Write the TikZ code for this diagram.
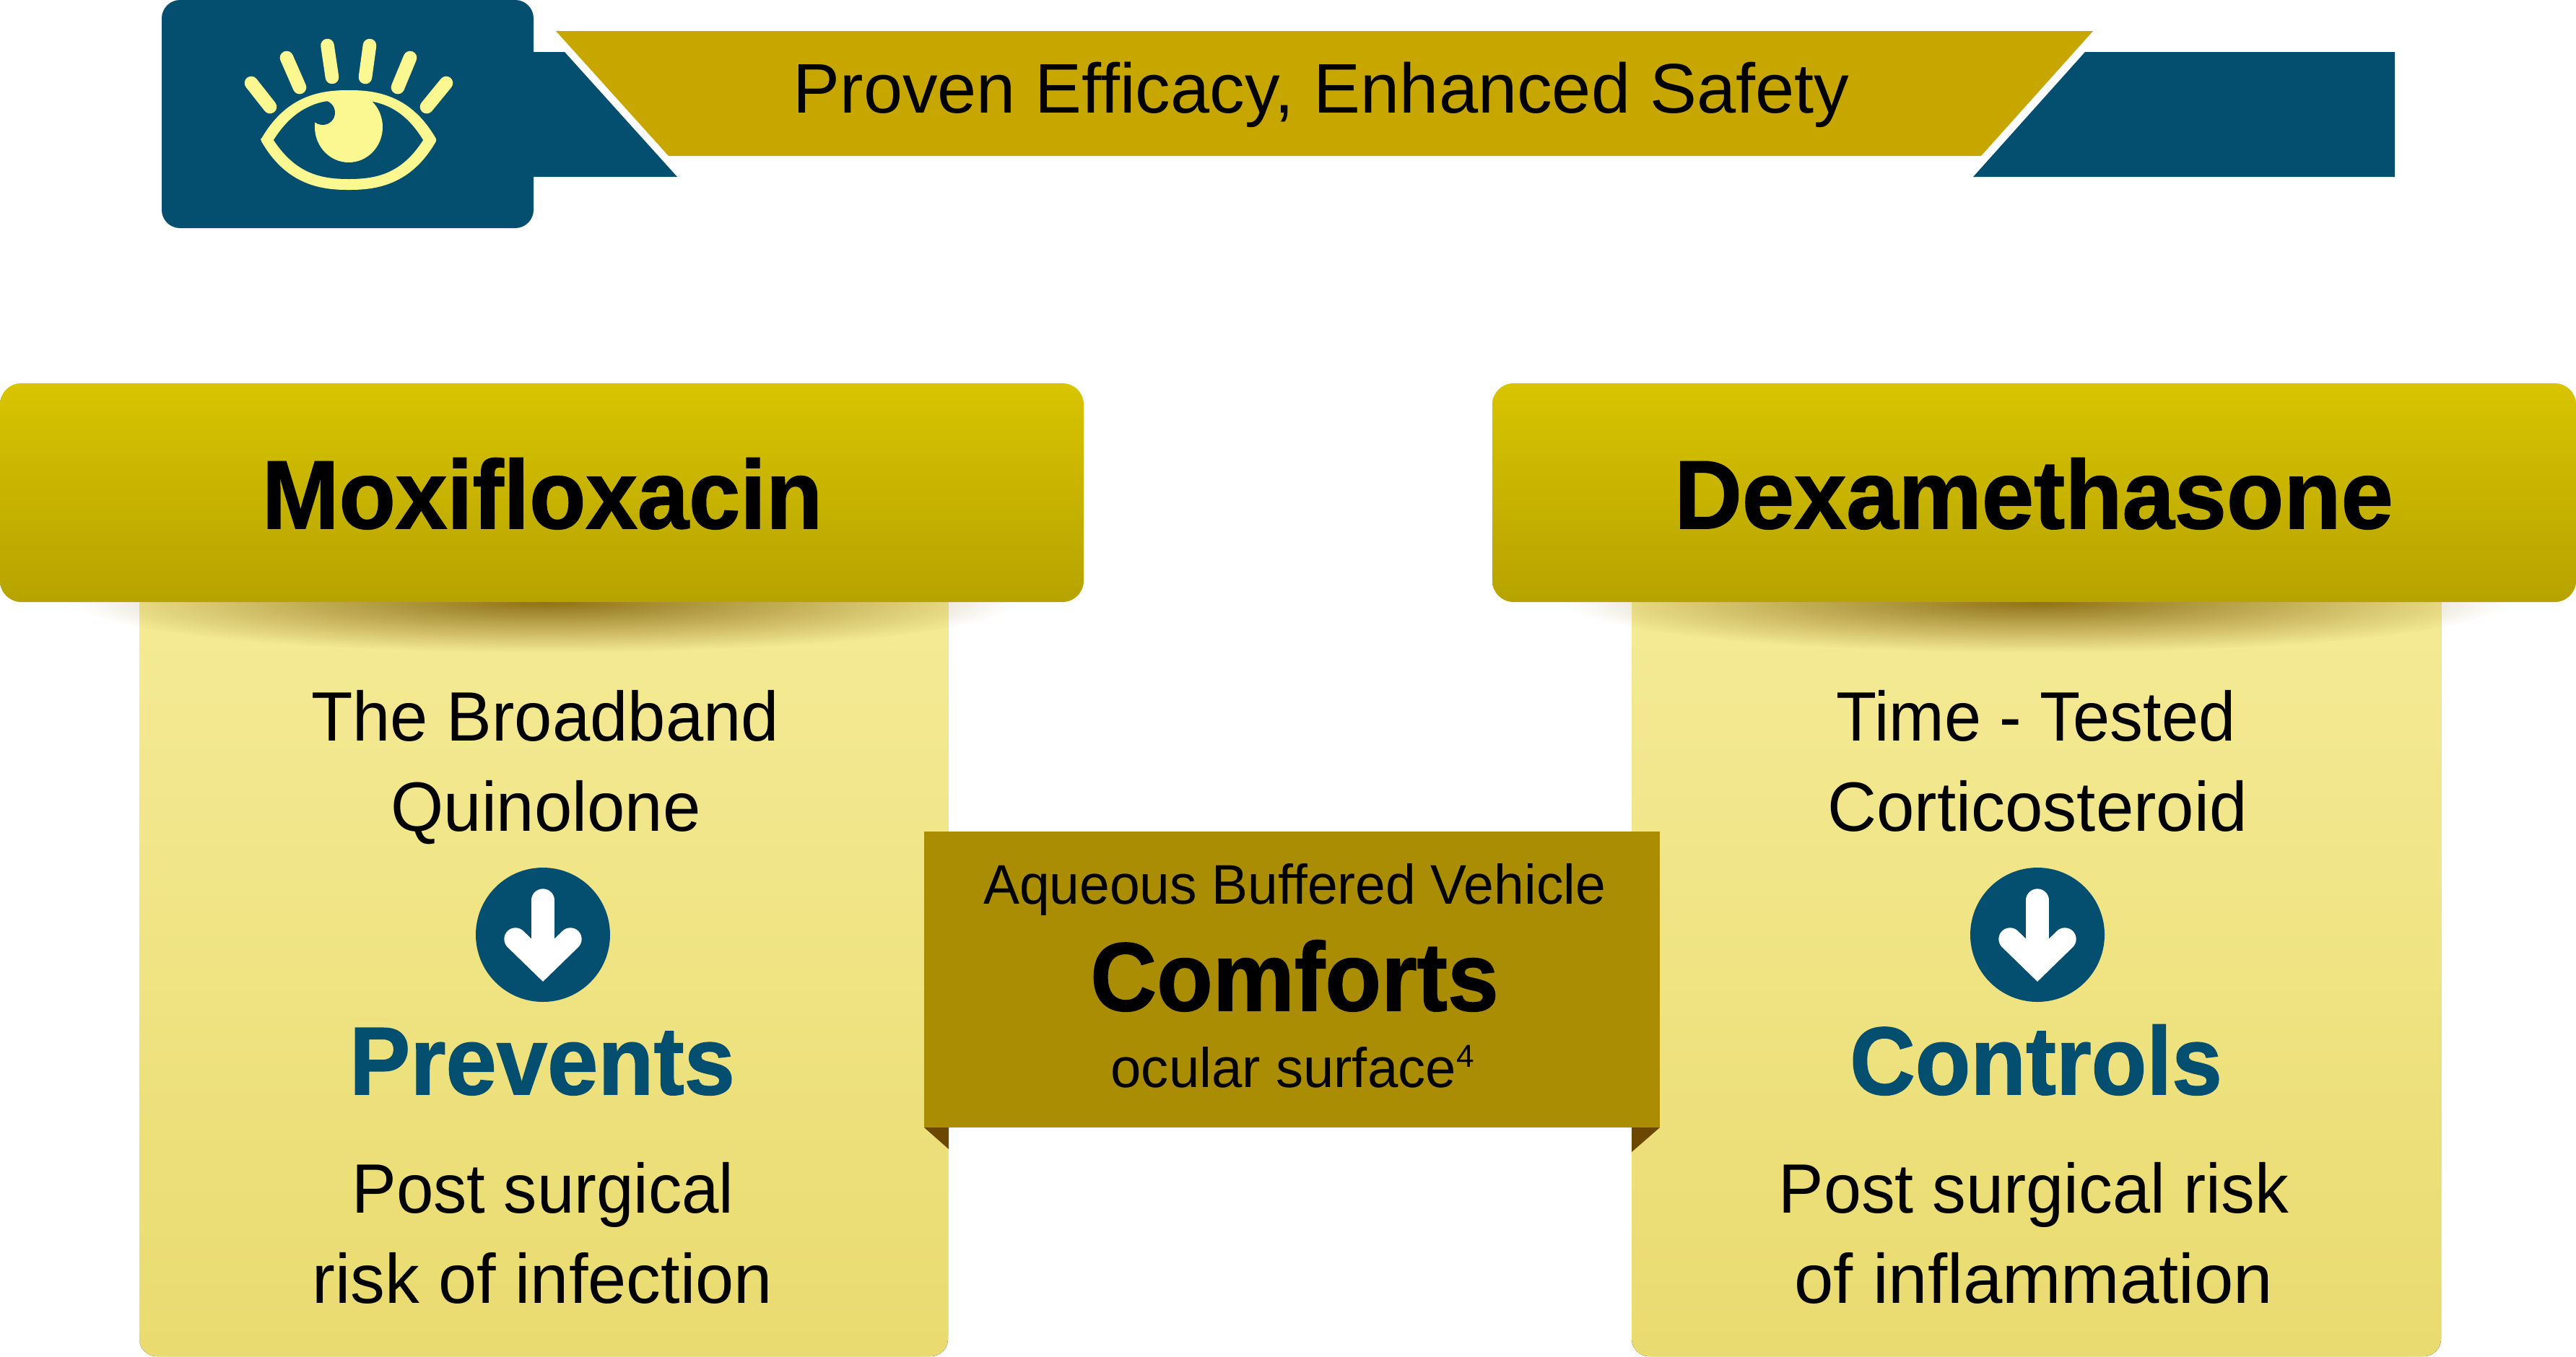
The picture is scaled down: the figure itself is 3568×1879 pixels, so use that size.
\documentclass[tikz,border=0pt]{standalone}
\usepackage{fontspec}
\usepackage{graphicx}
\usetikzlibrary{fadings}
\setmainfont{Liberation Sans}[BoldFeatures={FakeBold=1.2}]
\definecolor{navy}{HTML}{044F70}
\definecolor{ribbon}{HTML}{C7A600}
\definecolor{eyey}{HTML}{FBF791}
\definecolor{hdtop}{HTML}{D8C400}
\definecolor{hdbot}{HTML}{B7A300}
\definecolor{bodytop}{HTML}{F5EB97}
\definecolor{bodymid}{HTML}{F4E992}
\definecolor{bodybot}{HTML}{E9DB6F}
\definecolor{midbox}{HTML}{AA8D03}
\definecolor{foldc}{HTML}{6B4700}
\definecolor{shadowc}{HTML}{8A6A10}
\tikzfading[name=softedge, inner color=transparent!0, outer color=transparent!100]
\newcommand{\pxsize}[1]{\fontsize{#1}{#1}\selectfont}
\newcommand{\sx}[2]{\scalebox{#1}[1]{#2}}
\tikzset{
  x=0.75pt, y=-0.75pt,
  lbl/.style={inner sep=0pt, anchor=base, text=black},
  reg/.style={lbl, font=\pxsize{72.6}},
  small/.style={lbl, font=\pxsize{58}},
  head/.style={lbl, font=\pxsize{101}\bfseries},
  verb/.style={lbl, font=\pxsize{100}\bfseries, text=navy},
  hdbox/.style={rounded corners=22pt, top color=hdtop, bottom color=hdbot, draw=none},
  bdbox/.style={top color=bodytop, middle color=bodymid, bottom color=bodybot, draw=none},
  ray/.style={draw=eyey, line width=14pt, line cap=round},
}
\begin{document}
\begin{tikzpicture}
\useasboundingbox (0,0) rectangle (3568,1879);
% banner
\fill[navy] (782,72) -- (938,245) -- (700,245) -- (700,72) -- cycle;
\fill[navy, rounded corners=19pt] (224,0) rectangle (739,316);
\fill[ribbon] (770,43) -- (2899,43) -- (2744,216) -- (926,216) -- cycle;
\fill[navy] (2888,72) -- (3317,72) -- (3317,245) -- (2733,245) -- cycle;
\node[lbl, font=\pxsize{73}] (title) at (1830,156) {Proven Efficacy, Enhanced Safety};
% eye
\draw[ray] (348,115) -- (374,148);
\draw[ray] (397,80) -- (415,121);
\draw[ray] (453.5,63) -- (460,107);
\draw[ray] (512,63) -- (506,107);
\draw[ray] (568,80) -- (551,121);
\draw[ray] (618,115) -- (591,148);
\fill[eyey, rounded corners=2pt] (361,194) .. controls (395,135) and (440,125) .. (483,125) .. controls (526,125) and (571,135) .. (605,194) .. controls (571,253) and (526,263) .. (483,263) .. controls (440,263) and (395,253) .. (361,194) -- cycle;
\fill[navy] (379,194) .. controls (410,145) and (445,138) .. (483,138) .. controls (521,138) and (556,145) .. (586,194) .. controls (556,241) and (521,248) .. (483,248) .. controls (445,248) and (410,241) .. (379,194) -- cycle;
\fill[eyey] (483,176) ellipse [x radius=47, y radius=49];
\begin{scope}
\clip (379,194) .. controls (410,145) and (445,138) .. (483,138) .. controls (521,138) and (556,145) .. (586,194) -- cycle;
\fill[navy] (447,156) circle [radius=17];
\end{scope}
% bodies
\fill[bdbox, rounded corners=18pt] (193,800) rectangle (1313,1879);
\fill[bdbox, rounded corners=18pt] (2260,800) rectangle (3381,1879);
% shadows
\fill[shadowc, path fading=softedge, opacity=.95] (756,834) ellipse [x radius=650, y radius=70];
\fill[shadowc, path fading=softedge, opacity=.95] (2822,834) ellipse [x radius=650, y radius=70];
% headers
\path[hdbox] (0,531) rectangle (1501,834);
\path[hdbox] (2067,531) rectangle (3568,834);
\node[head] (moxi) at (751,732) {\sx{.952}{Moxifloxacin}};
\node[head] (dexa) at (2817,732) {\sx{.964}{Dexamethasone}};
% left column
\node[reg] (l1) at (755,1026) {\sx{.971}{The Broadband}};
\node[reg] (l2) at (756,1151) {\sx{.972}{Quinolone}};
\fill[navy] (752,1295) circle [radius=93];
\node[verb] (prev) at (751,1516) {\sx{.948}{Prevents}};
\node[reg] (l3) at (752,1680) {\sx{.955}{Post surgical}};
\node[reg] (l4) at (751,1805) {\sx{.987}{risk of infection}};
% right column
\node[reg] (r1) at (2820,1026) {\sx{.949}{Time - Tested}};
\node[reg] (r2) at (2822,1151) {\sx{.973}{Corticosteroid}};
\fill[navy] (2822,1295) circle [radius=93];
\node[verb] (ctrl) at (2820,1516) {\sx{.941}{Controls}};
\node[reg] (r3) at (2817,1680) {\sx{.966}{Post surgical risk}};
\node[reg] (r4) at (2817,1805) {\sx{1.01}{of inflammation}};
% arrows
\foreach \cx in {752,2822}{
  \draw[white, line width=23.5pt, line cap=round] (\cx,1247) -- (\cx,1330);
  \draw[white, line width=23.5pt, line cap=round, line join=miter] (\cx-38,1301) -- (\cx,1338) -- (\cx+38,1301);
}
% centre
\fill[foldc] (1280,1562) -- (1314,1562) -- (1314,1592) -- cycle;
\fill[foldc] (2299,1562) -- (2260,1562) -- (2260,1596) -- cycle;
\fill[midbox] (1280,1152) rectangle (2299,1562);
\node[small] (aq) at (1793,1252) {\sx{.97}{Aqueous Buffered Vehicle}};
\node[head] (comf) at (1793,1400) {\sx{.945}{Comforts}};
\node[small] (oc) at (1790,1506) {\sx{.985}{ocular surface}\raisebox{21pt}{\pxsize{33}4}};
\end{tikzpicture}
\end{document}
